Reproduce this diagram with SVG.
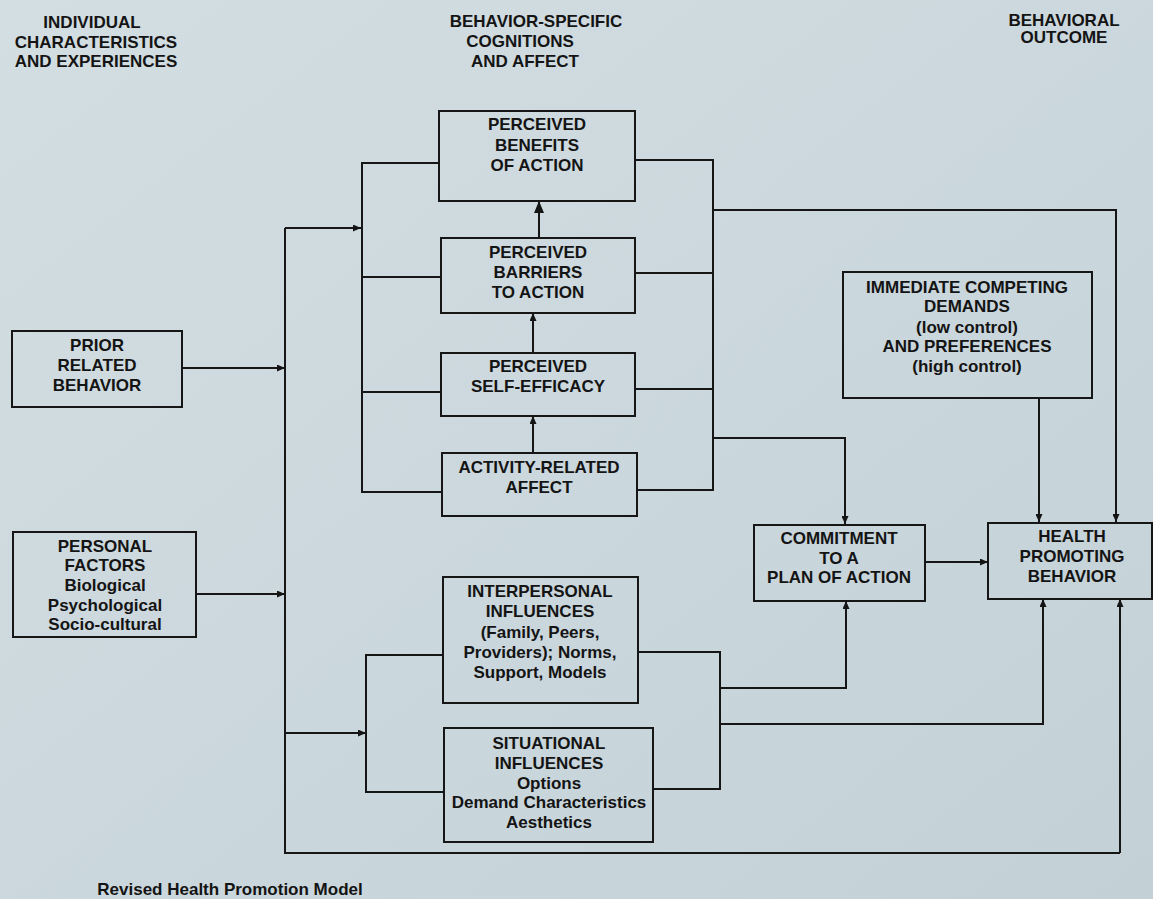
<svg xmlns="http://www.w3.org/2000/svg" width="1153" height="899" viewBox="0 0 1153 899">
<defs>
<linearGradient id="bg" x1="0" y1="0" x2="1" y2="1">
<stop offset="0" stop-color="#d3dee2"/>
<stop offset="1" stop-color="#c3d1d7"/>
</linearGradient>
<marker id="arr" viewBox="0 0 8 7" refX="8" refY="3.5" markerWidth="8" markerHeight="7" orient="auto" markerUnits="userSpaceOnUse">
<path d="M0,0 L8,3.5 L0,7 z" fill="#141414"/>
</marker>
<marker id="arrBig" viewBox="0 0 12 10" refX="12" refY="5" markerWidth="12" markerHeight="10" orient="auto" markerUnits="userSpaceOnUse">
<path d="M0,0 L12,5 L0,10 z" fill="#141414"/>
</marker>
</defs>
<style>
.box{fill:none;stroke:#161616;stroke-width:2}
.t{font-family:"Liberation Sans",Arial,sans-serif;font-weight:bold;font-size:17px;fill:#141414;text-anchor:middle}
.c{fill:none;stroke:#161616;stroke-width:2}
.a{marker-end:url(#arr)}
</style>
<rect x="0" y="0" width="1153" height="899" fill="url(#bg)"/>

<g id="headers">
<text class="t" x="92" y="28">INDIVIDUAL</text>
<text class="t" x="96" y="48">CHARACTERISTICS</text>
<text class="t" x="96" y="67">AND EXPERIENCES</text>
<text class="t" x="536" y="27">BEHAVIOR-SPECIFIC</text>
<text class="t" x="520" y="47">COGNITIONS</text>
<text class="t" x="525" y="67">AND AFFECT</text>
<text class="t" x="1064" y="26">BEHAVIORAL</text>
<text class="t" x="1064" y="43">OUTCOME</text>
</g>

<g id="connectors">
<!-- outer left bus -->
<path class="c" d="M285,228 V853 H1120"/>
<path class="c a" d="M1120,853 V599"/>
<path class="c a" d="M182,368 H285"/>
<path class="c a" d="M196,594 H285"/>
<path class="c a" d="M285,228 H361"/>
<path class="c a" d="M285,733 H366"/>
<!-- inner top-left bus -->
<path class="c" d="M439,163 H362 V492 H442"/>
<path class="c" d="M362,277 H441"/>
<path class="c" d="M362,392 H441"/>
<!-- top right bus -->
<path class="c" d="M635,160 H713 V490 H637"/>
<path class="c" d="M635,273 H713"/>
<path class="c" d="M635,389 H713"/>
<path class="c a" d="M713,210 H1116 V522"/>
<path class="c a" d="M713,438 H845 V524"/>
<!-- vertical arrows in the cognition column -->
<path class="c" d="M539,238 V201" marker-end="url(#arrBig)"/>
<path class="c a" d="M533,353 V313"/>
<path class="c a" d="M533,453 V416"/>
<!-- lower group buses -->
<path class="c" d="M443,655 H366 V792 H444"/>
<path class="c" d="M638,652 H720 V789 H653"/>
<path class="c a" d="M720,688 H846 V601"/>
<path class="c a" d="M720,724 H1043 V599"/>
<!-- right side -->
<path class="c a" d="M1039,398 V522"/>
<path class="c a" d="M925,562 H988"/>
</g>

<g id="prior-related-behavior">
<rect class="box" x="12" y="331" width="170" height="76"/>
<text class="t" x="97" y="351">PRIOR</text>
<text class="t" x="97" y="371">RELATED</text>
<text class="t" x="97" y="391">BEHAVIOR</text>
</g>

<g id="personal-factors">
<rect class="box" x="13" y="532" width="183" height="105"/>
<text class="t" x="105" y="552">PERSONAL</text>
<text class="t" x="105" y="571">FACTORS</text>
<text class="t" x="105" y="591">Biological</text>
<text class="t" x="105" y="611">Psychological</text>
<text class="t" x="105" y="630">Socio-cultural</text>
</g>

<g id="perceived-benefits">
<rect class="box" x="439" y="111" width="196" height="90"/>
<text class="t" x="537" y="130">PERCEIVED</text>
<text class="t" x="537" y="151">BENEFITS</text>
<text class="t" x="537" y="171">OF ACTION</text>
</g>

<g id="perceived-barriers">
<rect class="box" x="441" y="238" width="194" height="75"/>
<text class="t" x="538" y="258">PERCEIVED</text>
<text class="t" x="538" y="278">BARRIERS</text>
<text class="t" x="538" y="298">TO ACTION</text>
</g>

<g id="perceived-self-efficacy">
<rect class="box" x="441" y="353" width="194" height="63"/>
<text class="t" x="538" y="372">PERCEIVED</text>
<text class="t" x="538" y="392">SELF-EFFICACY</text>
</g>

<g id="activity-related-affect">
<rect class="box" x="442" y="453" width="195" height="63"/>
<text class="t" x="539" y="473">ACTIVITY-RELATED</text>
<text class="t" x="539" y="493">AFFECT</text>
</g>

<g id="interpersonal-influences">
<rect class="box" x="443" y="577" width="195" height="126"/>
<text class="t" x="540" y="597">INTERPERSONAL</text>
<text class="t" x="540" y="617">INFLUENCES</text>
<text class="t" x="540" y="638">(Family, Peers,</text>
<text class="t" x="540" y="658">Providers); Norms,</text>
<text class="t" x="540" y="678">Support, Models</text>
</g>

<g id="situational-influences">
<rect class="box" x="444" y="728" width="209" height="114"/>
<text class="t" x="549" y="749">SITUATIONAL</text>
<text class="t" x="549" y="769">INFLUENCES</text>
<text class="t" x="549" y="789">Options</text>
<text class="t" x="549" y="808">Demand Characteristics</text>
<text class="t" x="549" y="828">Aesthetics</text>
</g>

<g id="immediate-competing-demands">
<rect class="box" x="843" y="272" width="249" height="126"/>
<text class="t" x="967" y="293">IMMEDIATE COMPETING</text>
<text class="t" x="967" y="312">DEMANDS</text>
<text class="t" x="967" y="333">(low control)</text>
<text class="t" x="967" y="352">AND PREFERENCES</text>
<text class="t" x="967" y="372">(high control)</text>
</g>

<g id="commitment">
<rect class="box" x="754" y="525" width="171" height="76"/>
<text class="t" x="839" y="544">COMMITMENT</text>
<text class="t" x="839" y="564">TO A</text>
<text class="t" x="839" y="583">PLAN OF ACTION</text>
</g>

<g id="health-promoting-behavior">
<rect class="box" x="988" y="523" width="164" height="76"/>
<text class="t" x="1072" y="542">HEALTH</text>
<text class="t" x="1072" y="562">PROMOTING</text>
<text class="t" x="1072" y="582">BEHAVIOR</text>
</g>

<g id="caption">
<text class="t" x="230" y="895">Revised Health Promotion Model</text>
</g>
</svg>
